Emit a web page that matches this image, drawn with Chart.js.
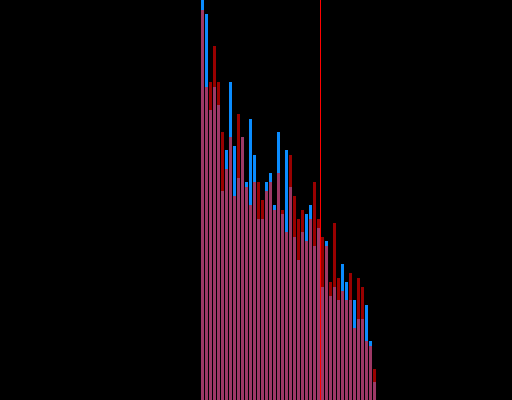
<!DOCTYPE html>
<html>
<head>
<meta charset="utf-8">
<title>Histogram</title>
<script src="https://cdn.jsdelivr.net/npm/chart.js@4/dist/chart.umd.min.js"></script>
<style>
    html, body { margin: 0; padding: 0; background: #000; }
    #wrap { width: 512px; height: 400px; }
</style>
</head>
<body>
<div id="wrap"><canvas id="histChart" width="512" height="400"></canvas></div>
<script>
// bin numbers (shared by both series)
const bins = [0, 1, 2, 3, 4, 5, 6, 7, 8, 9, 10, 11, 12, 13, 14, 15, 16, 17, 18, 19, 20, 21,
    22, 23, 24, 25, 26, 27, 28, 29, 30, 31, 32, 33, 34, 35, 36, 37, 38, 39, 40, 41, 42, 43];

// counts
const blueCounts = [400, 386, 290, 313, 295, 209, 250, 318, 254, 222, 263, 218, 281, 245, 181, 181, 218, 227, 195, 268, 186, 250,
    213, 163, 140, 168, 186, 195, 154, 172, 113, 159, 104, 113, 100, 136, 118, 100, 100, 81, 81, 95, 59, 18];
const redCounts = [390, 313, 318, 354, 318, 268, 231, 263, 204, 286, 263, 213, 195, 218, 218, 200, 209, 218, 190, 227, 190, 168,
    245, 204, 181, 190, 159, 181, 218, 181, 163, 154, 118, 177, 122, 109, 100, 127, 72, 122, 113, 59, 54, 31];

// vertical marker (sits on the edge between bins 29 and 30)
const markerAt = 29.5;
const countMax = 400;

const toPoints = (counts) => counts.map((c, i) => ({ x: bins[i], y: c }));

const ctx = document.getElementById('histChart').getContext('2d');
const histChart = new Chart(ctx, {
    type: 'bar',
    data: {
        datasets: [
            {
                label: 'A',
                data: toPoints(blueCounts),
                backgroundColor: 'rgb(10, 140, 255)',
                borderWidth: 0,
                categoryPercentage: 1,
                barPercentage: 0.75, // 3px bar, 1px gap
                grouped: false,
                order: 2
            },
            {
                label: 'B',
                data: toPoints(redCounts),
                backgroundColor: 'rgba(255, 0, 0, 0.6)',
                borderWidth: 0,
                categoryPercentage: 1,
                barPercentage: 0.75,
                grouped: false,
                order: 1
            },
            {
                type: 'line',
                label: 'marker',
                data: [{ x: markerAt, y: 0 }, { x: markerAt, y: countMax }],
                borderColor: '#ff0000',
                borderWidth: 1,
                pointRadius: 0,
                fill: false,
                order: 0
            }
        ]
    },
    options: {
        responsive: false,
        animation: false,
        layout: { padding: 0 },
        scales: {
            x: {
                type: 'linear',
                display: false,
                offset: false,
                min: -50.625,
                max: 77.375
            },
            y: {
                display: false,
                min: 0,
                max: countMax
            }
        },
        plugins: {
            legend: { display: false },
            tooltip: { enabled: false }
        }
    }
});
</script>
</body>
</html>
